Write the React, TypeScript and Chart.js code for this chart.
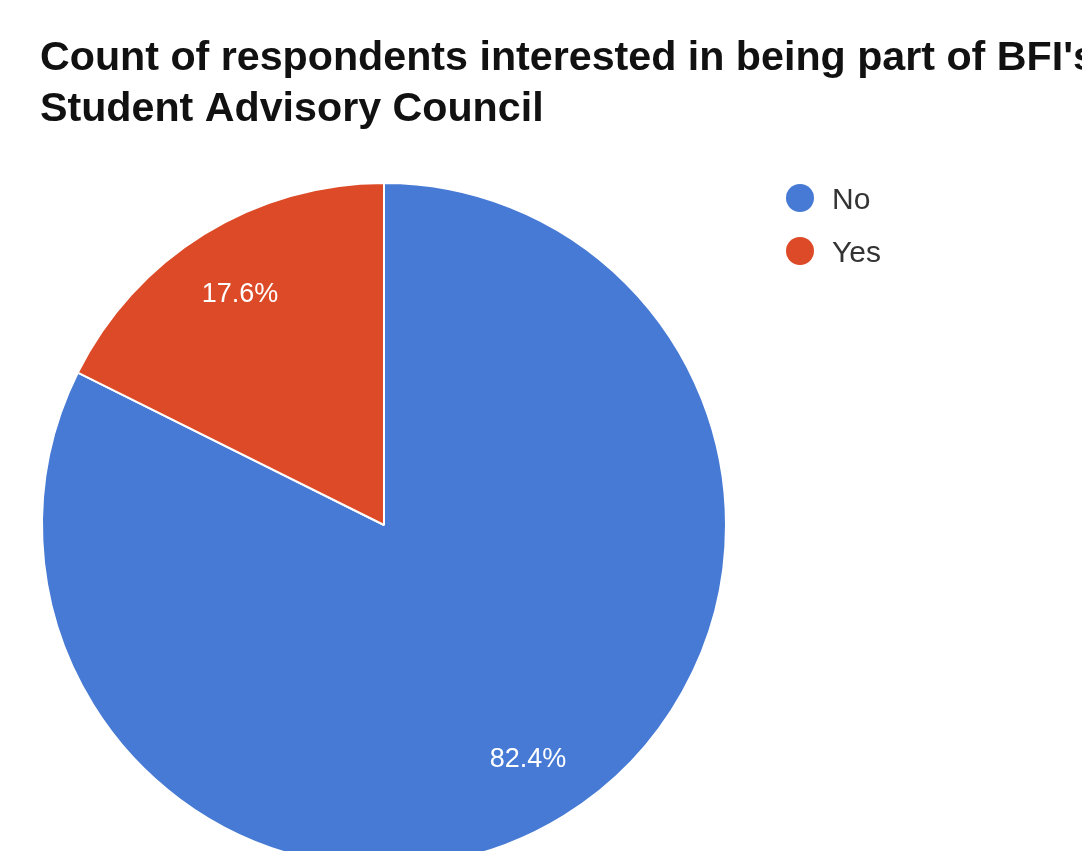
import React, { useEffect, useRef } from "react";
import { Chart, registerables } from "chart.js";

Chart.register(...registerables);

const titleLines = [
  "Count of respondents interested in being part of BFI's",
  "Student Advisory Council",
];
const categories = ["No", "Yes"];
const counts = [14, 3];
const colors = ["#477ad4", "#dc4a27"];

const FONT = "'Liberation Sans', Arial, sans-serif";

const overlayPlugin = {
  id: "overlay",
  afterDraw(chart: any) {
    const ctx = chart.ctx as CanvasRenderingContext2D;
    ctx.save();
    // title
    ctx.fillStyle = "#111";
    ctx.font = `bold 40px ${FONT}`;
    ctx.textAlign = "left";
    ctx.textBaseline = "alphabetic";
    titleLines.forEach((t, i) => {
      ctx.save();
      ctx.translate(40, 70 + i * 51);
      ctx.scale(1.03, 1);
      ctx.fillText(t, 0, 0);
      ctx.restore();
    });

    // legend
    const ds = chart.data.datasets[0];
    (chart.data.labels as string[]).forEach((lab, i) => {
      const cy = 198 + i * 53;
      ctx.beginPath();
      ctx.arc(800, cy, 14, 0, Math.PI * 2);
      ctx.fillStyle = ds.backgroundColor[i];
      ctx.fill();
      ctx.fillStyle = "#333";
      ctx.font = `30px ${FONT}`;
      ctx.fillText(lab, 832, cy + 11);
    });

    // slice labels
    const meta = chart.getDatasetMeta(0);
    const total = (ds.data as number[]).reduce((a, b) => a + b, 0);
    ctx.font = `27px ${FONT}`;
    ctx.fillStyle = "#ffffff";
    ctx.textAlign = "center";
    ctx.textBaseline = "middle";
    meta.data.forEach((arc: any, i: number) => {
      const p = arc.getProps(["x", "y", "startAngle", "endAngle", "outerRadius"], true);
      const mid = (p.startAngle + p.endAngle) / 2;
      const r = p.outerRadius * 0.8;
      const pct = ((ds.data[i] as number) / total) * 100;
      ctx.fillText(pct.toFixed(1) + "%", p.x + Math.cos(mid) * r, p.y + Math.sin(mid) * r + 2);
    });
    ctx.restore();
  },
};

export default function App() {
  const ref = useRef<HTMLCanvasElement>(null);
  useEffect(() => {
    if (!ref.current) return;
    const chart = new Chart(ref.current, {
      type: "pie",
      data: {
        labels: categories,
        datasets: [
          {
            data: counts,
            backgroundColor: colors,
            borderColor: "#ffffff",
            borderWidth: 2,
          },
        ],
      },
      options: {
        animation: false,
        responsive: false,
        layout: { padding: { left: 41, right: 355, top: 182, bottom: 32 } },
        plugins: {
          legend: { display: false },
          title: { display: false },
          tooltip: { enabled: false },
        },
      },
      plugins: [overlayPlugin],
    });
    return () => chart.destroy();
  }, []);
  return (
    <div
      style={{
        position: "fixed",
        left: 0,
        top: 0,
        width: 1082,
        height: 851,
        overflow: "hidden",
        background: "#fff",
      }}
    >
      <canvas ref={ref} width={1082} height={900} style={{ width: 1082, height: 900, display: "block" }} />
    </div>
  );
}
